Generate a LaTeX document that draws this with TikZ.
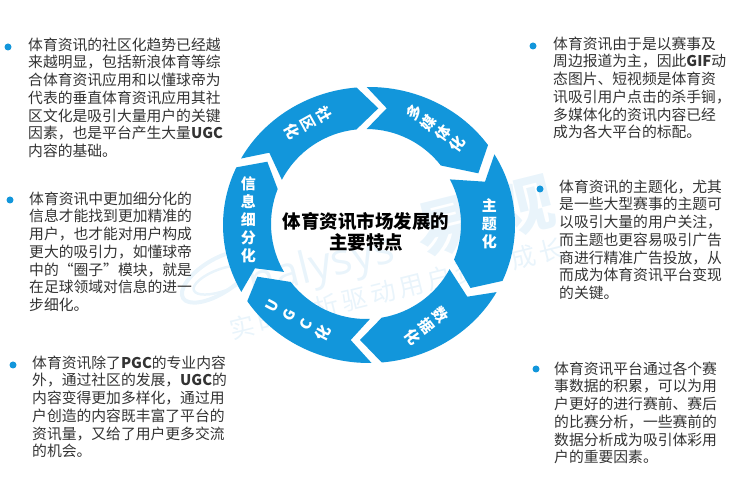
\documentclass[tikz,border=0pt]{standalone}
\usepackage{fontspec}
\setmainfont{Noto Sans CJK SC}
\newfontfamily\markfont[LetterSpace=16]{Noto Sans CJK SC}
\newfontfamily\logofont{Open Sans}
\usetikzlibrary{positioning}
\definecolor{ringblue}{HTML}{1296DB}
\definecolor{bodygray}{HTML}{333333}
\definecolor{markblue}{HTML}{E9F4FB}

\begin{document}
\begin{tikzpicture}
  [x=1pt,y=1pt]
  \tikzstyle{para}=[anchor=north west,inner sep=0pt,align=left,text=bodygray,font=\fontsize{14.8}{17.7}\selectfont]
  \tikzstyle{dot}=[circle,fill=ringblue,inner sep=0pt,minimum size=7pt]
  \tikzstyle{seg}=[fill=ringblue]
  \tikzstyle{lab}=[text=white,align=center,inner sep=0pt,font=\bfseries\fontsize{15}{18}\selectfont]
  \tikzstyle{wmark}=[text=markblue,inner sep=0pt,rotate=14]
  \useasboundingbox (0,0) rectangle (735,500);

  \draw[markblue,line width=4pt,rotate around={32:(217,223)}] (217,223) ellipse (40 and 17);
  \draw[markblue,line width=2.5pt,rotate around={20:(222,220)}] (222,220) ellipse (30 and 11);
  \node[wmark,font=\logofont\fontsize{44}{44}\selectfont] (logo) at (322,232) {nalysys};
  \node[wmark,font=\bfseries\fontsize{62}{62}\selectfont] (yi) at (447,273) {易};
  \node[wmark,font=\bfseries\fontsize{62}{62}\selectfont] (guan) at (523,293) {观};
  \node[wmark,font=\markfont\fontsize{25}{25}\selectfont] (slogan) at (397,211) {实时分析驱动用户资产成长};

  \coordinate (o) at (369,275);
  \coordinate (i) at (366,276);
  \fill[seg] ([shift={(o)}]151.2:146 and 138) arc[start angle=151.2,end angle=94.9,x radius=146,y radius=138] -- (378.3,391.7) -- ([shift={(i)}]95.8:95) arc[start angle=95.8,end angle=152.3,radius=95] -- (269.3,347.3) -- cycle;
  \fill[seg] ([shift={(o)}]90.9:146 and 138) arc[start angle=90.9,end angle=35.4,x radius=146,y radius=138] -- (478.3,326.7) -- ([shift={(i)}]38:95) arc[start angle=38,end angle=89.6,radius=95] -- (386.7,391.7) -- cycle;
  \fill[seg] ([shift={(o)}]30.8:146 and 138) arc[start angle=30.8,end angle=-23.9,x radius=146,y radius=138] -- (470.5,212) -- ([shift={(i)}]-22:95) arc[start angle=-22,end angle=28,radius=95] -- (485,318.3) -- cycle;
  \fill[seg] ([shift={(o)}]-29.1:146 and 138) arc[start angle=-29.1,end angle=-85,x radius=146,y radius=138] -- (360,160) -- ([shift={(i)}]-80.5:95) arc[start angle=-80.5,end angle=-28.4,radius=95] -- (467.3,203.3) -- cycle;
  \fill[seg] ([shift={(o)}]-89:146 and 138) arc[start angle=-89,end angle=-146.5,x radius=146,y radius=138] -- (257.3,223.3) -- ([shift={(i)}]-142.4:95) arc[start angle=-142.4,end angle=-87.6,radius=95] -- (350.7,160) -- cycle;
  \fill[seg] ([shift={(o)}]-151:146 and 138) arc[start angle=209,end angle=155.3,x radius=146,y radius=138] -- (267.3,338.3) -- ([shift={(i)}]158.4:95) arc[start angle=158.4,end angle=210.3,radius=95] -- (255,231.7) -- cycle;

  \node[lab,rotate=-61] (l1) at (308,377) {社\\区\\化};
  \node[lab,rotate=54] (l2) at (435.7,372) {多\\媒\\体\\化};
  \node[lab] (l3) at (489.3,276) {主\\题\\化};
  \node[lab,rotate=-52] (l4) at (426.7,174.3) {数\\据\\化};
  \node[lab,rotate=62,font=\bfseries\fontsize{15}{19}\selectfont] (l5) at (298.3,180) {U\\G\\C\\化};
  \node[lab] (l6) at (248.3,280) {信\\息\\细\\分\\化};

  \node[align=center,inner sep=0pt,font=\bfseries\fontsize{18.5}{20.5}\selectfont] (title) at (366,268) {体育资讯市场发展的\\主要特点};

  \node[dot] (d1) at (8,453) {};
  \node[para] (t1) at (28,462.5) {体育资讯的社区化趋势已经越\\来越明显，包括新浪体育等综\\合体育资讯应用和以懂球帝为\\代表的垂直体育资讯应用其社\\区文化是吸引大量用户的关键\\因素，也是平台产生大量\textbf{UGC}\\内容的基础。};
  \node[dot] (d2) at (10,300) {};
  \node[para] (t2) at (29,308.5) {体育资讯中更加细分化的\\信息才能找到更加精准的\\用户，也才能对用户构成\\更大的吸引力，如懂球帝\\中的“圈子”模块，就是\\在足球领域对信息的进一\\步细化。};
  \node[dot] (d3) at (13,135) {};
  \node[para] (t3) at (32,144.5) {体育资讯除了\textbf{PGC}的专业内容\\外，通过社区的发展，\textbf{UGC}的\\内容变得更加多样化，通过用\\户创造的内容既丰富了平台的\\资讯量，又给了用户更多交流\\的机会。};
  \node[dot] (d4) at (533,454) {};
  \node[para] (t4) at (553,463.5) {体育资讯由于是以赛事及\\周边报道为主，因此\textbf{GIF}动\\态图片、短视频是体育资\\讯吸引用户点击的杀手锏，\\多媒体化的资讯内容已经\\成为各大平台的标配。};
  \node[dot] (d5) at (540,311) {};
  \node[para] (t5) at (559,320.5) {体育资讯的主题化，尤其\\是一些大型赛事的主题可\\以吸引大量的用户关注，\\而主题也更容易吸引广告\\商进行精准广告投放，从\\而成为体育资讯平台变现\\的关键。};
  \node[dot] (d6) at (536,131) {};
  \node[para] (t6) at (554,138.5) {体育资讯平台通过各个赛\\事数据的积累，可以为用\\户更好的进行赛前、赛后\\的比赛分析，一些赛前的\\数据分析成为吸引体彩用\\户的重要因素。};
\end{tikzpicture}
\end{document}
